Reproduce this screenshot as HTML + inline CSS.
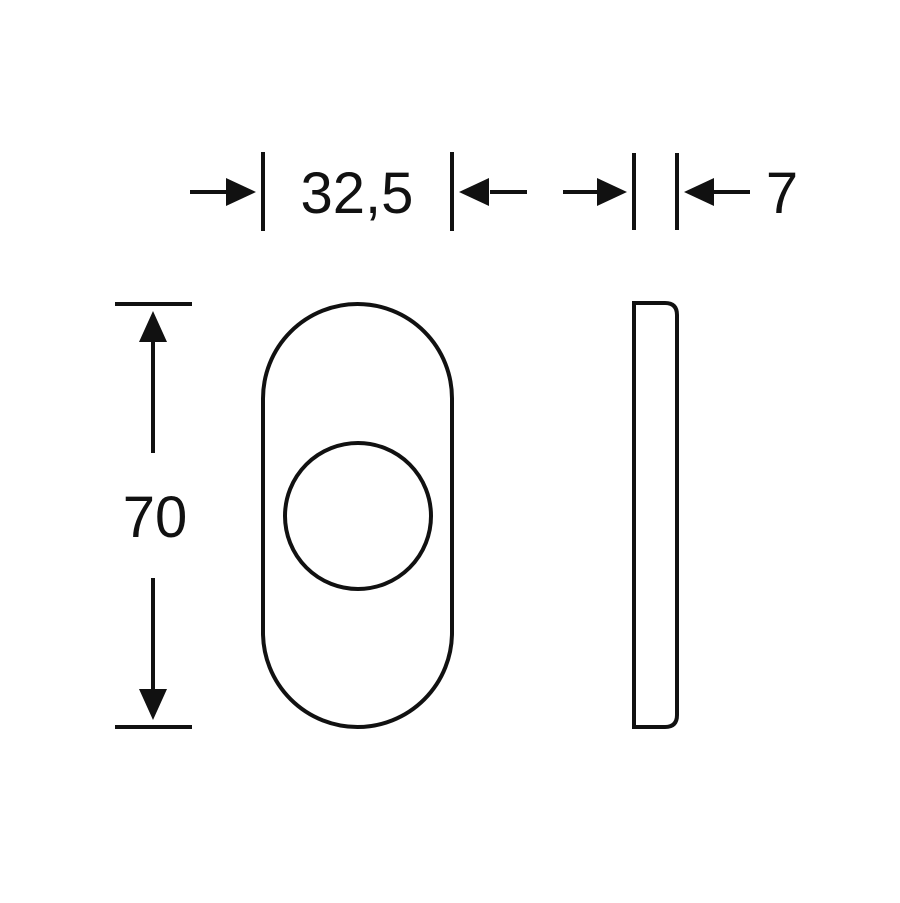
<!DOCTYPE html>
<html><head><meta charset="utf-8"><style>
html,body{margin:0;padding:0;background:#fff;}
svg{display:block;}
text{font-family:"Liberation Sans",sans-serif;fill:#111;}
</style></head><body>
<svg width="900" height="903" viewBox="0 0 900 903">
<g stroke="#111" stroke-width="4" fill="none" stroke-linecap="butt">
  <!-- top dimension 32,5 -->
  <line x1="190" y1="192" x2="228" y2="192"/>
  <line x1="263" y1="152" x2="263" y2="231"/>
  <line x1="452" y1="152" x2="452" y2="231"/>
  <line x1="490" y1="192" x2="527" y2="192"/>
  <!-- thickness 7 -->
  <line x1="563" y1="192" x2="600" y2="192"/>
  <line x1="634" y1="153" x2="634" y2="230"/>
  <line x1="677" y1="153" x2="677" y2="230"/>
  <line x1="712" y1="192" x2="750" y2="192"/>
  <!-- height 70 -->
  <line x1="115" y1="304" x2="192" y2="304"/>
  <line x1="115" y1="727" x2="192" y2="727"/>
  <line x1="153" y1="340" x2="153" y2="453"/>
  <line x1="153" y1="578" x2="153" y2="690"/>
  <!-- stadium plate -->
  <rect x="263" y="304" width="189" height="423" rx="94.5" ry="94.5"/>
  <circle cx="358" cy="516" r="73"/>
  <!-- side profile -->
  <path d="M634 303 L665 303 Q677 303 677 315 L677 715 Q677 727 665 727 L634 727 Z"/>
</g>
<g fill="#111">
  <polygon points="256,192 226,178 226,206"/>
  <polygon points="459,192 489,178 489,206"/>
  <polygon points="627,192 597,178 597,206"/>
  <polygon points="684,192 714,178 714,206"/>
  <polygon points="153,311 139,342 167,342"/>
  <polygon points="153,720 139,689 167,689"/>
</g>
<text x="357" y="213" font-size="58" text-anchor="middle">32,5</text>
<text x="782" y="213" font-size="58" text-anchor="middle">7</text>
<text x="155" y="537" font-size="58" text-anchor="middle">70</text>
</svg>
</body></html>
